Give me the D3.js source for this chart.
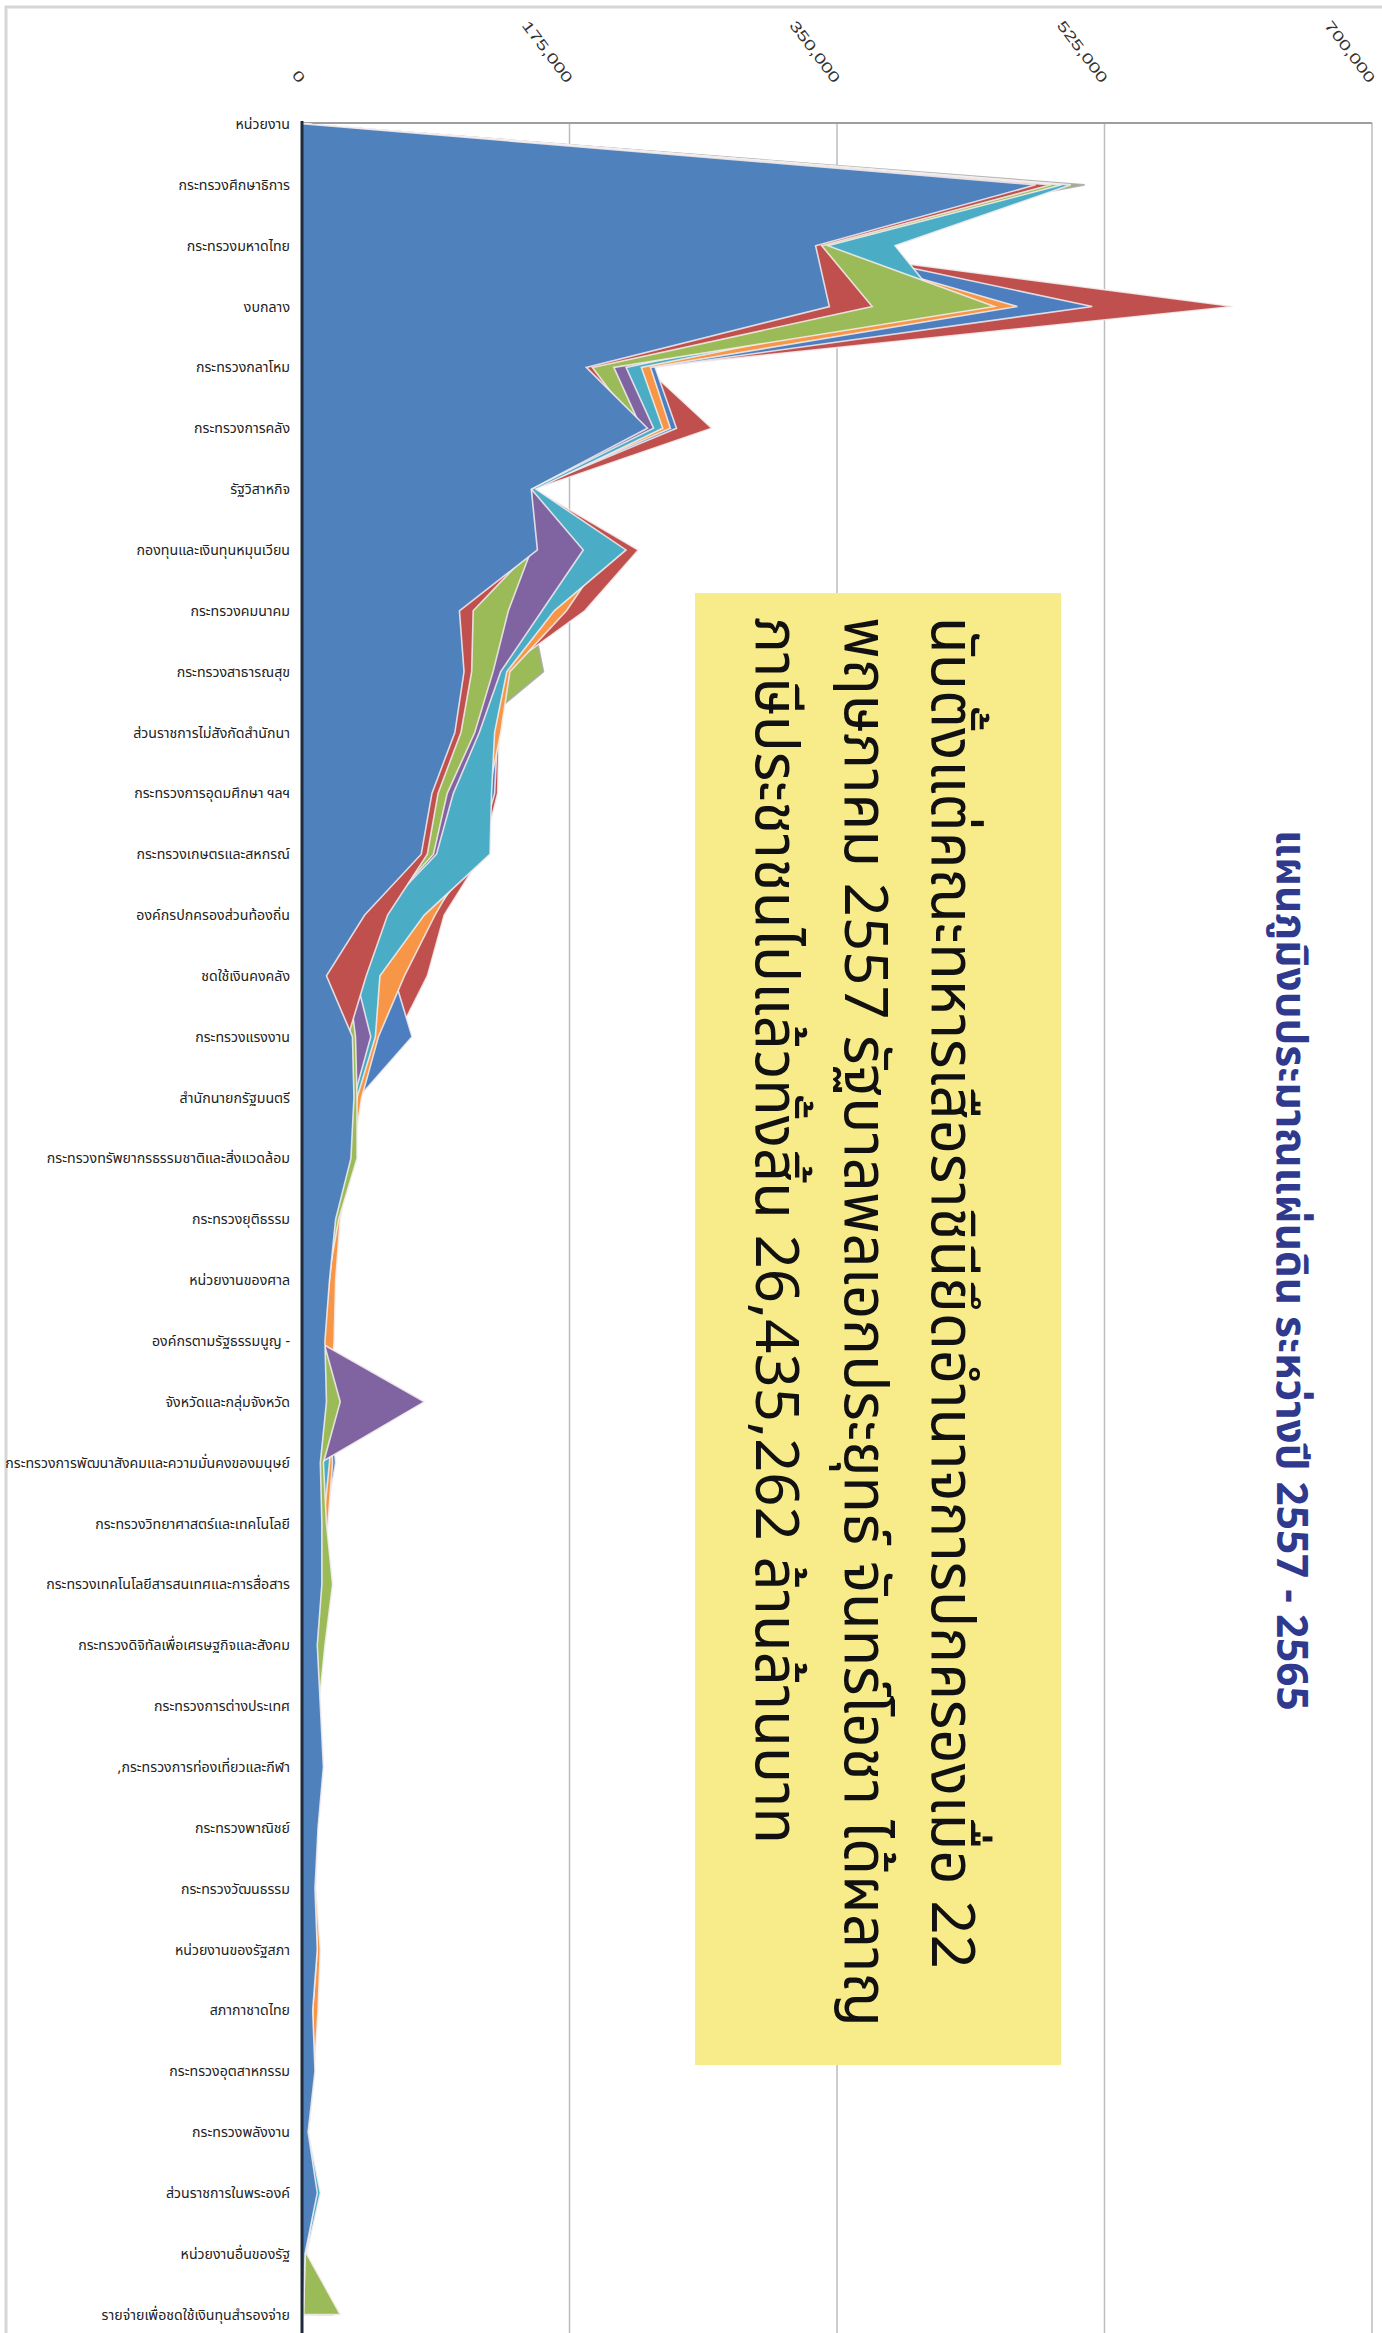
<!DOCTYPE html>
<html><head><meta charset="utf-8">
<script src="https://cdn.jsdelivr.net/npm/d3@7"></script>
<style>
html,body{margin:0;padding:0;background:#fff;}
svg{display:block;}
</style></head>
<body>
<script>
// ---------------- DATA ----------------
const categories = [
 "หน่วยงาน","กระทรวงศึกษาธิการ","กระทรวงมหาดไทย","งบกลาง","กระทรวงกลาโหม","กระทรวงการคลัง",
 "รัฐวิสาหกิจ","กองทุนและเงินทุนหมุนเวียน","กระทรวงคมนาคม","กระทรวงสาธารณสุข",
 "ส่วนราชการไม่สังกัดสำนักนา","กระทรวงการอุดมศึกษา ฯลฯ","กระทรวงเกษตรและสหกรณ์","องค์กรปกครองส่วนท้องถิ่น",
 "ชดใช้เงินคงคลัง","กระทรวงแรงงาน","สำนักนายกรัฐมนตรี","กระทรวงทรัพยากรธรรมชาติและสิ่งแวดล้อม",
 "กระทรวงยุติธรรม","หน่วยงานของศาล","องค์กรตามรัฐธรรมนูญ -","จังหวัดและกลุ่มจังหวัด",
 "กระทรวงการพัฒนาสังคมและความมั่นคงของมนุษย์","กระทรวงวิทยาศาสตร์และเทคโนโลยี",
 "กระทรวงเทคโนโลยีสารสนเทศและการสื่อสาร","กระทรวงดิจิทัลเพื่อเศรษฐกิจและสังคม",
 "กระทรวงการต่างประเทศ",",กระทรวงการท่องเที่ยวและกีฬา","กระทรวงพาณิชย์","กระทรวงวัฒนธรรม",
 "หน่วยงานของรัฐสภา","สภากาชาดไทย","กระทรวงอุตสาหกรรม","กระทรวงพลังงาน","ส่วนราชการในพระองค์",
 "หน่วยงานอื่นของรัฐ","รายจ่ายเพื่อชดใช้เงินทุนสำรองจ่าย"
];
const seriesNames = ["2557","2558","2559","2560","2561","2562","2563","2564","2565"];
const seriesColors = ["#4f81bd","#c0504d","#9bbb59","#8064a2","#4bacc6","#f79646","#4d7fc0","#c0504d","#9bbb59"];
// values in million baht
const v2557 = [2000,480000,336000,345000,186000,226000,150000,154000,103000,106000,100000,85000,78000,41000,16000,33000,34000,32000,22000,18000,15000,16000,12000,13000,13000,10000,12000,14000,10500,8500,10000,7000,8500,4000,10000,2000,1000];
const v2558 = [1000,490000,340000,373000,190000,220000,150000,150000,112000,111000,104000,89000,82000,56000,42000,30000,30000,28000,20000,16000,12000,14000,11000,12000,12000,9000,11000,12000,10000,8000,9000,6000,8000,4000,9000,2000,1000];
const v2559 = [1000,497000,344000,453000,204000,222000,150000,150000,135000,125000,113000,95000,86000,50000,30000,35000,36000,36000,24000,17000,14000,25000,14000,16000,20000,15000,11000,13000,10000,8000,9000,6000,8000,4000,9000,3000,25000];
const v2560 = [1000,495000,340000,400000,212000,230000,150000,184000,157000,130000,116000,99000,88000,50000,35000,45000,34000,30000,20000,16000,10000,80000,12000,12000,12000,9000,10000,12000,9000,8000,9000,6000,8000,4000,9000,2000,10000];
const v2561 = [1000,503000,388000,420000,222000,236000,153000,212000,165000,134000,126000,124000,123000,80000,51000,48000,36000,32000,22000,18000,14000,20000,18000,14000,13000,10000,12000,13000,10000,8000,10000,7000,8000,4000,12000,3000,5000];
const v2562 = [1000,500000,330000,468000,228000,241000,150000,200000,173000,136000,130000,122000,110000,87000,67000,50000,39000,33000,25000,22000,21000,18000,20000,17000,14000,10000,11000,13000,10000,9000,12000,10500,8000,4000,9000,3000,5000];
const v2563 = [1000,497000,330000,517000,231000,245000,150000,200000,160000,135000,128000,126000,115000,85000,60000,72000,37000,30000,22000,18000,15000,18000,22000,15000,13000,10000,12000,14000,10000,9000,10000,8000,8000,4000,10000,3000,5000];
const v2564 = [1000,495000,305000,609000,225000,268000,152000,220000,185000,130000,129000,128000,118000,93000,82000,62000,30000,28000,20000,16000,12000,15000,12000,12000,12000,9000,10000,12000,9000,8000,9000,6000,8000,4000,9000,2000,5000];
const v2565 = [0,512000,300000,400000,200000,230000,150000,180000,150000,158000,110000,100000,90000,60000,40000,40000,30000,28000,20000,16000,12000,15000,12000,12000,12000,9000,10000,12000,9000,8000,9000,6000,8000,4000,9000,2000,20000];
const seriesValues = [v2557,v2558,v2559,v2560,v2561,v2562,v2563,v2564,v2565];
const tickValues = [0,175000,350000,525000,700000];

const titleText = "แผนภูมิงบประมาณแผ่นดิน ระหว่างปี 2557 - 2565";
const noteLines = [
 "นับตั้งแต่คณะทหารเสือราชินียึดอำนาจการปกครองเมื่อ 22",
 "พฤษภาคม 2557 รัฐบาลพลเอกประยุทธ์ จันทร์โอชา ได้ผลาญ",
 "ภาษีประชาชนไปแล้วทั้งสิ้น 26,435,262 ล้านล้านบาท"
];

// ---------------- DRAW ----------------
const W = 1382, H = 2333;
const FONT = "'Noto Sans Thai','Noto Sans Thai UI','Noto Sans','DejaVu Sans',sans-serif";
const svg = d3.select("body").append("svg").attr("width", W).attr("height", H);

// outer frame
svg.append("rect").attr("x",6).attr("y",7).attr("width",W+20).attr("height",H+20)
  .attr("fill","none").attr("stroke","#d6d6d6").attr("stroke-width",3);

const x = d3.scaleLinear().domain([0,700000]).range([302,1372]);
const y = d3.scalePoint().domain(categories).range([124, 124 + 36*60.85]);

// gridlines
svg.append("g").selectAll("line").data(tickValues.slice(1)).join("line")
  .attr("x1",d=>x(d)).attr("x2",d=>x(d)).attr("y1",y.range()[0]-1).attr("y2",H)
  .attr("stroke","#bdbdbd").attr("stroke-width",1.5);

// top axis line
svg.append("line").attr("x1",x(0)).attr("x2",x(700000)).attr("y1",123).attr("y2",123)
  .attr("stroke","#9e9e9e").attr("stroke-width",2);

// tick labels (rotated, stretched along their direction)
svg.append("g").selectAll("text").data(tickValues).join("text")
  .attr("transform",d=>`translate(${x(d)-4},84) rotate(53) scale(1.4,1)`)
  .attr("text-anchor","end")
  .attr("font-family","'Liberation Sans',Arial,sans-serif").attr("font-size",14.5)
  .attr("fill","#333")
  .text(d=>d3.format(",")(d));

// areas (back to front)
const area = d3.area()
  .y((d,i)=>y(categories[i]))
  .x0(x(0))
  .x1(d=>x(d));
const order = d3.range(seriesValues.length).reverse();
svg.append("g").selectAll("path").data(order).join("path")
  .attr("d",i=>area(seriesValues[i]))
  .attr("fill",i=>seriesColors[i])
  .attr("stroke",i=> i===8 ? "#a8a8a8" : "#f4eef0")
  .attr("stroke-opacity",0.85)
  .attr("stroke-width",1.6)
  .attr("stroke-linejoin","miter");

// left axis line
svg.append("line").attr("x1",x(0)).attr("x2",x(0)).attr("y1",121).attr("y2",H)
  .attr("stroke","#1d2b3b").attr("stroke-width",3);

// category labels
const catG = svg.append("g");
catG.selectAll("text").data(categories).join("text")
  .attr("x",290).attr("y",d=>y(d)+5)
  .attr("text-anchor","end")
  .attr("font-family",FONT).attr("font-size",13)
  .attr("fill","#222")
  .text(d=>d);
{
  const t = catG.selectAll("text").filter((d,i)=>i===22);
  const len = t.node().getComputedTextLength();
  const fs = 13*285/len;
  catG.selectAll("text").attr("font-size",fs);
}

// yellow note box
svg.append("rect").attr("x",695).attr("y",593).attr("width",366).attr("height",1472)
  .attr("fill","#f8ec8a");
const baseX = [932,845,756];
const noteG = svg.append("g");
noteLines.forEach((s,i)=>{
  noteG.append("text")
    .attr("transform",`translate(${baseX[i]},617) rotate(90)`)
    .attr("font-family",FONT).attr("font-size",56).attr("fill","#111")
    .text(s);
});
{
  const len = noteG.select("text").node().getComputedTextLength();
  const fs = 56*1352/len;
  noteG.selectAll("text").attr("font-size",fs);
}

// title
const title = svg.append("text")
  .attr("transform",`translate(1277,830) rotate(90)`)
  .attr("font-family",FONT).attr("font-size",40).attr("font-weight","bold")
  .attr("fill","#2f3a8e")
  .text(titleText);
{
  const len = title.node().getComputedTextLength();
  title.attr("font-size",40*881/len);
}
</script>
</body></html>
